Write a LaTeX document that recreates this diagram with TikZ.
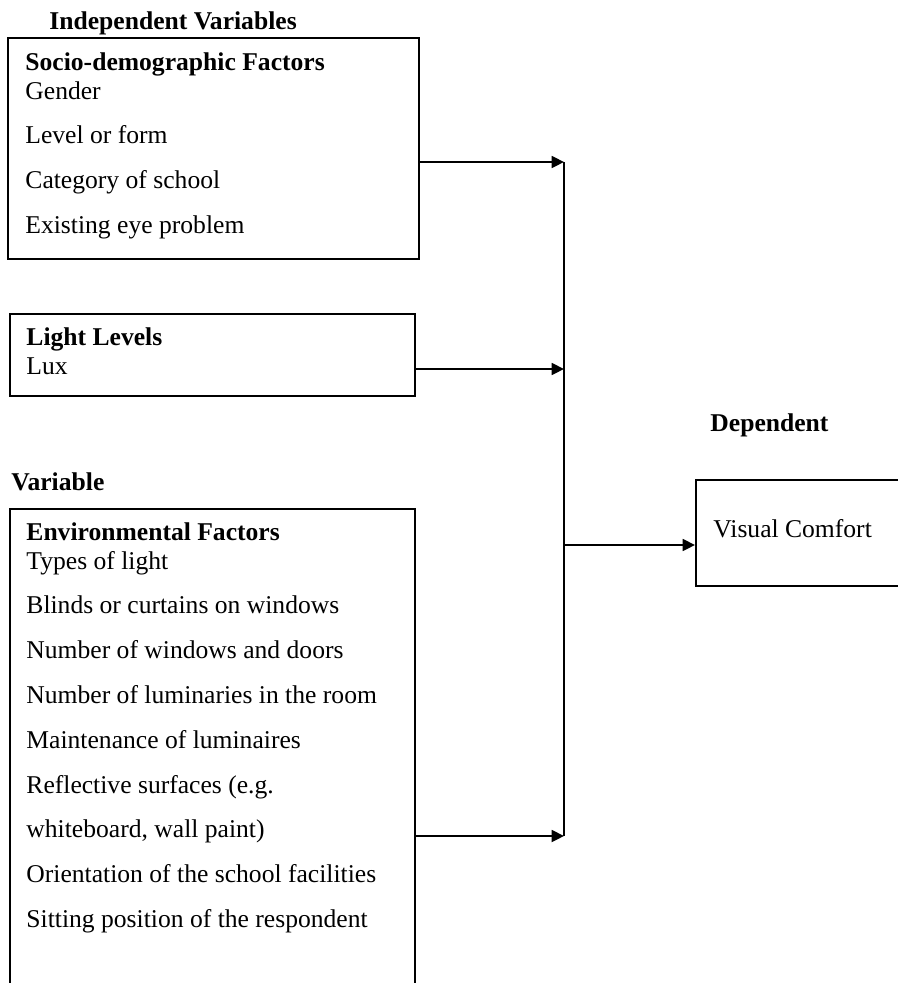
\documentclass[tikz,border=0pt]{standalone}
\usepackage{fontspec}
\setmainfont{Liberation Serif}
\usepackage{tikz}
\usetikzlibrary{arrows.meta}
\newcommand{\pxu}{0.46875pt}
\newcommand{\boxfont}{\fontsize{12}{13.6}\selectfont}
\newcommand{\itemgap}{7.4pt}
\tikzstyle{factorbox} = [draw=black, line width=0.9pt, rectangle,
    anchor=north west, inner sep=0]
\tikzstyle{factortext} = [anchor=base west, inner sep=0, font=\boxfont]
\tikzstyle{heading} = [anchor=base west, inner sep=0, font={\boxfont\bfseries}]
\tikzstyle{link} = [line width=0.9pt, -{Triangle[length=5.8pt, width=5.6pt]}]

\begin{document}
\begin{tikzpicture}[x=\pxu, y=-\pxu]
\useasboundingbox (0,0) rectangle (898,983);
\node [factorbox, minimum width=411*\pxu, minimum height=221*\pxu] (socio) at (7,37) {};
\node [factortext] (sociotext) at ([shift={(18,33)}]socio.north west) {
    \begin{tabular}[t]{@{}l@{}}
        \textbf{Socio-demographic Factors}\\
        Gender\\[\itemgap]
        Level or form\\[\itemgap]
        Category of school\\[\itemgap]
        Existing eye problem
    \end{tabular}
};
\node [heading] (indep) at ([shift={(42,-8)}]socio.north west) {Independent Variables};

\node [factorbox, minimum width=405*\pxu, minimum height=82*\pxu] (light) at (9,313) {};
\node [factortext] (lighttext) at ([shift={(17,32)}]light.north west) {
    \begin{tabular}[t]{@{}l@{}}
        \textbf{Light Levels}\\
        Lux
    \end{tabular}
};

\node [factorbox, minimum width=405*\pxu, minimum height=500*\pxu] (env) at (9,508) {};
\node [factortext] (envtext) at ([shift={(17,32)}]env.north west) {
    \begin{tabular}[t]{@{}l@{}}
        \textbf{Environmental Factors}\\
        Types of light\\[\itemgap]
        Blinds or curtains on windows\\[\itemgap]
        Number of windows and doors\\[\itemgap]
        Number of luminaries in the room\\[\itemgap]
        Maintenance of luminaires\\[\itemgap]
        Reflective surfaces (e.g.\\[\itemgap]
        whiteboard, wall paint)\\[\itemgap]
        Orientation of the school facilities\\[\itemgap]
        Sitting position of the respondent
    \end{tabular}
};
\node [heading] (variable) at ([shift={(2,-18)}]env.north west) {Variable};

\node [factorbox, minimum width=212*\pxu, minimum height=106*\pxu] (comfort) at (695,479) {};
\node [factortext] (comforttext) at ([shift={(18,58)}]comfort.north west) {Visual Comfort};
\node [heading] (dependent) at ([shift={(15,-48)}]comfort.north west) {Dependent};

\coordinate (jointop) at (564,162);
\coordinate (jointlux) at (564,369);
\coordinate (jointout) at (564,545);
\coordinate (jointenv) at (564,836);
\draw [link] (socio.east |- jointop) -- (jointop);
\draw [link] (light.east |- jointlux) -- (jointlux);
\draw [link] (env.east |- jointenv) -- (jointenv);
\draw [line width=0.9pt] (jointop) -- (jointenv);
\draw [link] (jointout) -- (comfort.west |- jointout);
\end{tikzpicture}
\end{document}
